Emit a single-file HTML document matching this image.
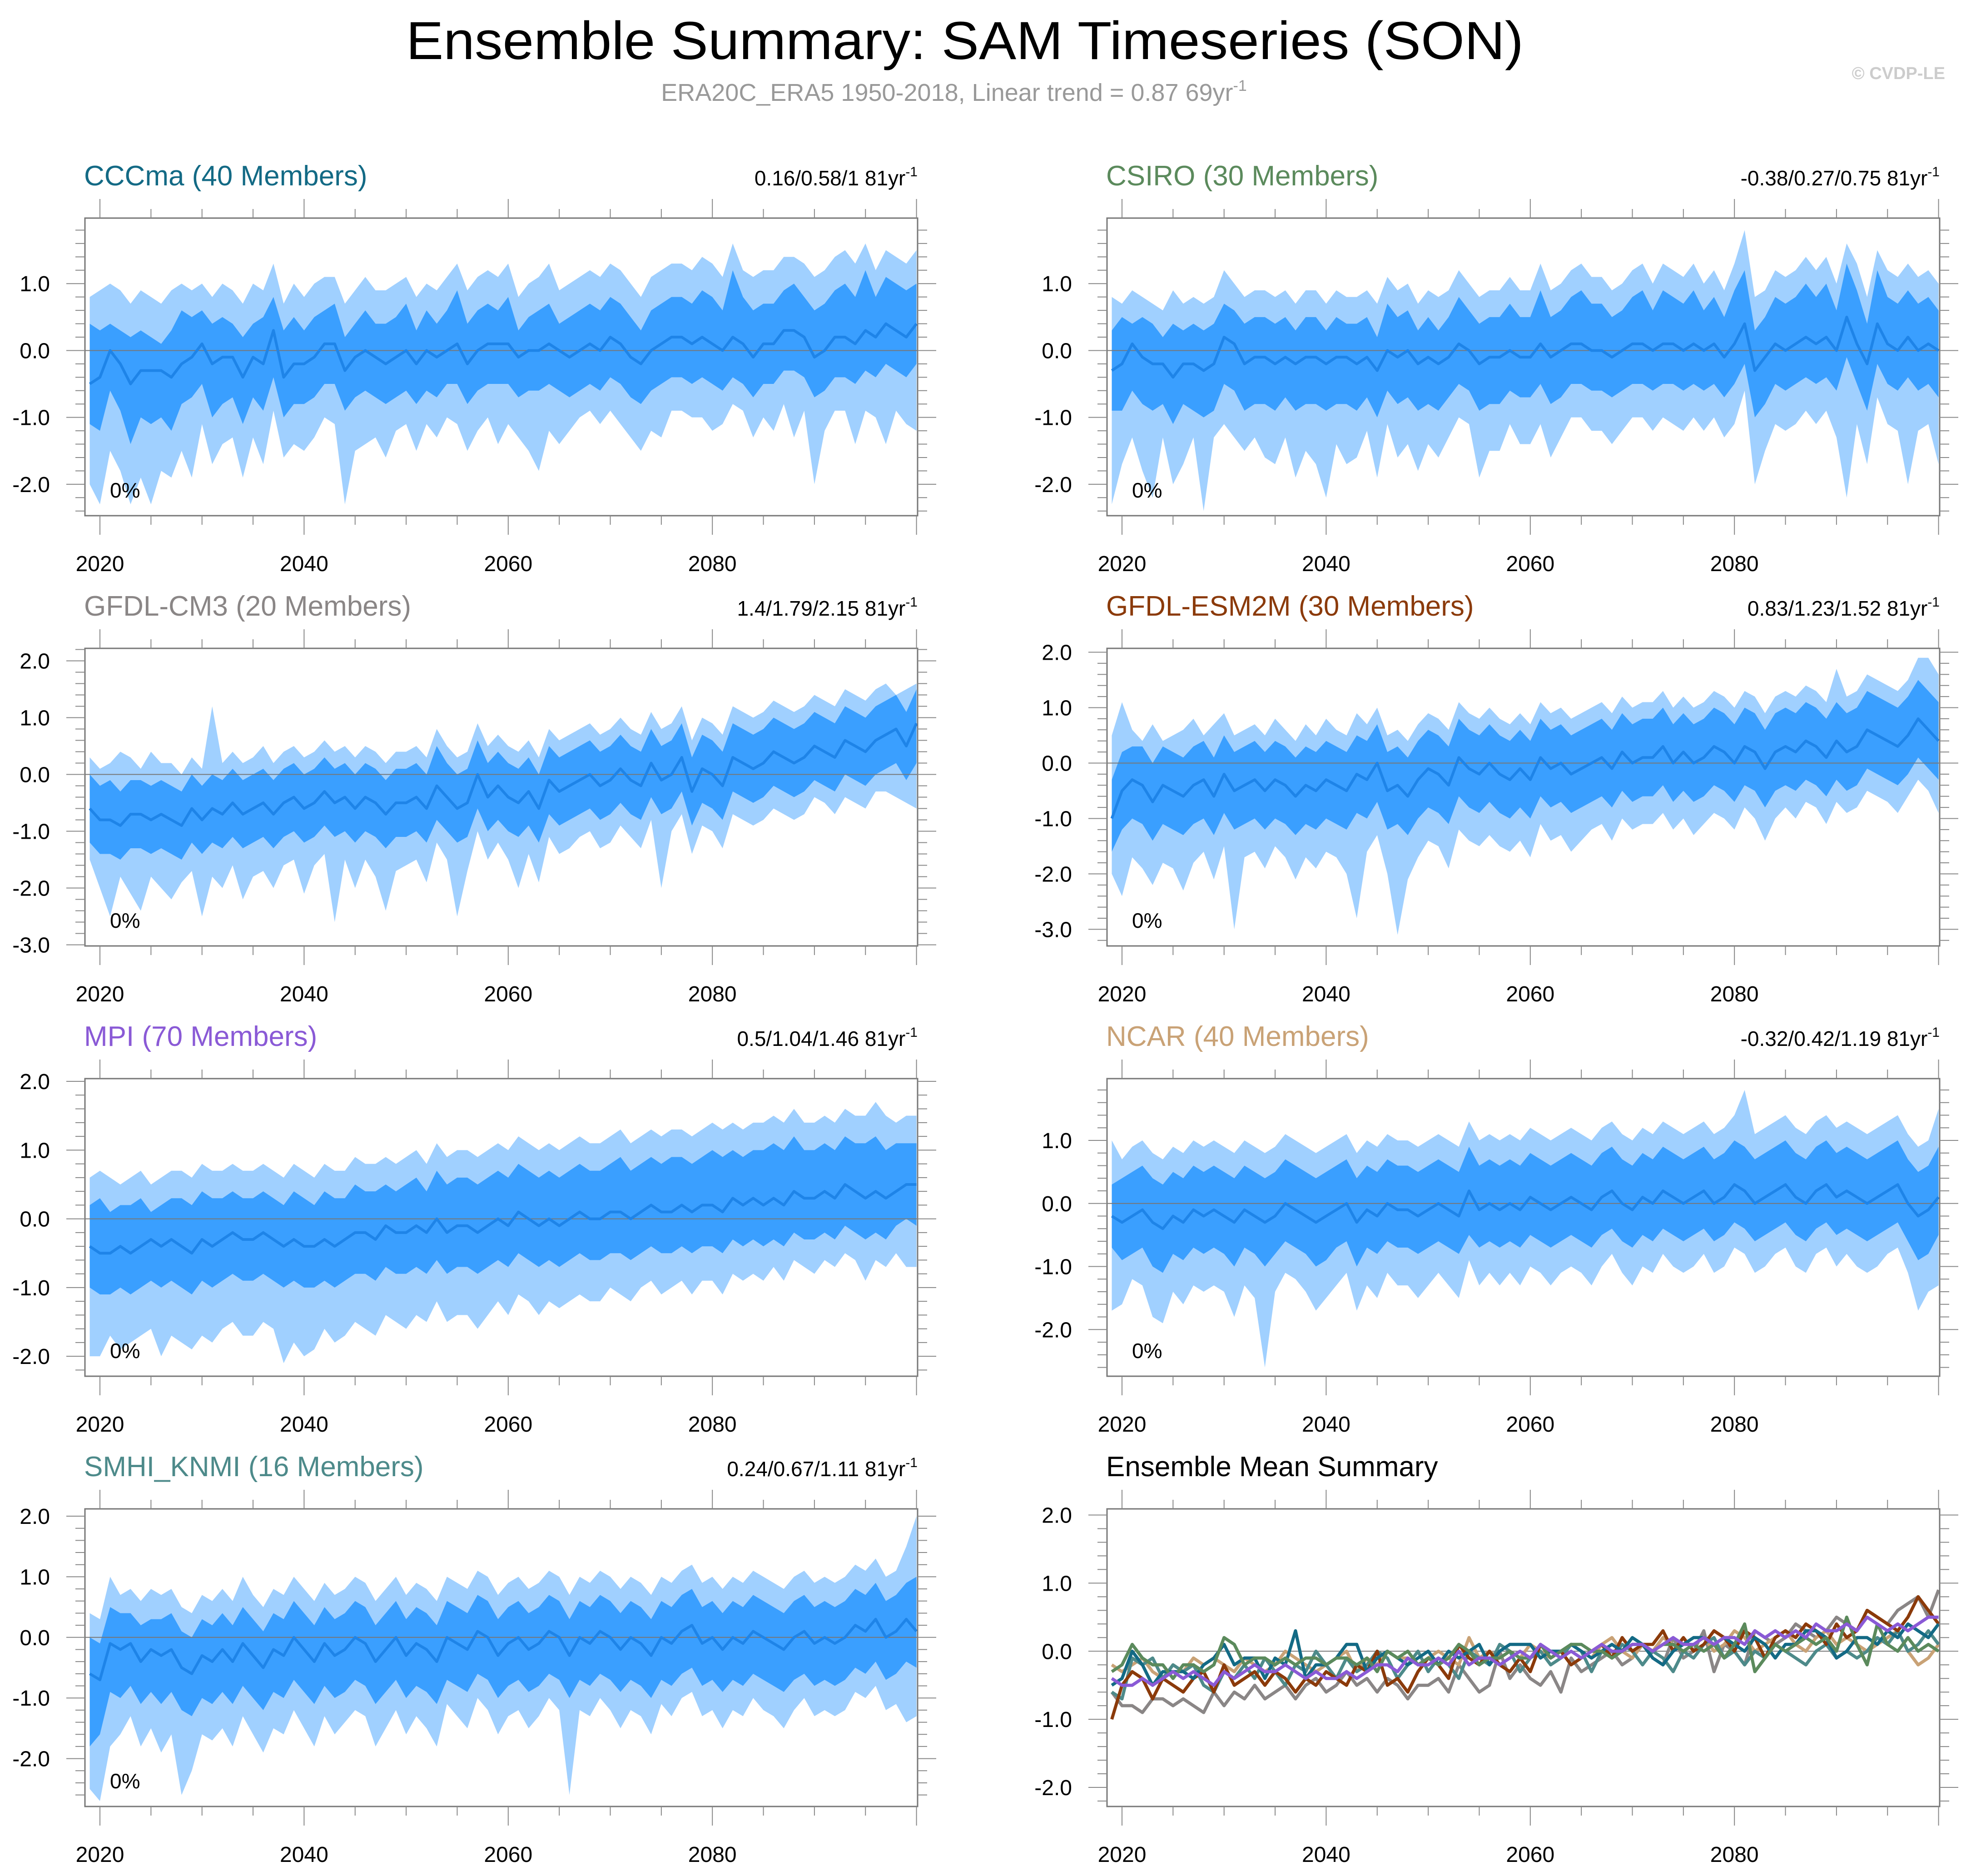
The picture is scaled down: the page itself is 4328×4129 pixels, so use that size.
<!DOCTYPE html>
<html><head><meta charset="utf-8"><title>Ensemble Summary: SAM Timeseries (SON)</title>
<style>html,body{margin:0;padding:0;background:#fff}svg{display:block}text{font-family:"Liberation Sans",sans-serif}</style>
</head><body>
<svg id="fig" xmlns="http://www.w3.org/2000/svg" width="4328" height="4129" viewBox="0 0 4328 4129">
<rect width="4328" height="4129" fill="#fff"/>
<text x="2124" y="130" font-size="118" text-anchor="middle" textLength="2460" lengthAdjust="spacingAndGlyphs">Ensemble Summary: SAM Timeseries (SON)</text>
<text x="2100" y="222" font-size="54" fill="#999" text-anchor="middle">ERA20C_ERA5 1950-2018, Linear trend = 0.87 69yr<tspan font-size="34" dy="-22">-1</tspan></text>
<text x="4282" y="174" font-size="38" font-weight="bold" fill="#ccc" text-anchor="end">© CVDP-LE</text>
<g id="panels"></g>
</svg>
<script>
const years0 = 2019;
// values in tenths
const cccmaMean=[-5,-4,0,-2,-5,-3,-3,-3,-4,-2,-1,1,-2,-1,-1,-4,-1,-2,3,-4,-2,-2,-1,1,1,-3,-1,0,-1,-2,-1,0,-2,0,-1,0,1,-2,0,1,1,1,-1,0,0,1,0,-1,0,1,0,2,1,-1,-2,0,1,2,2,1,2,1,0,2,1,-1,1,1,3,3,2,-1,0,2,2,1,3,2,4,3,2,4];
const cccmaIH=[4,3,4,3,2,3,2,1,3,6,5,6,4,5,4,2,4,5,8,3,5,3,5,6,7,2,4,6,4,4,5,7,3,6,4,6,9,4,6,7,6,8,3,5,6,7,4,5,6,7,6,8,7,5,3,6,7,8,8,7,9,8,6,12,8,6,7,7,9,10,8,6,7,9,10,8,12,8,11,10,9,10];
const cccmaIL=[-11,-12,-6,-9,-14,-10,-11,-10,-12,-8,-7,-5,-10,-8,-7,-11,-7,-9,-4,-10,-8,-8,-7,-5,-5,-9,-7,-6,-7,-8,-7,-6,-8,-6,-7,-5,-5,-8,-6,-5,-5,-5,-7,-6,-6,-5,-6,-7,-6,-5,-6,-4,-5,-7,-8,-6,-5,-4,-4,-5,-4,-5,-6,-4,-5,-7,-5,-5,-3,-3,-4,-7,-6,-4,-4,-5,-3,-4,-2,-3,-4,-2];
const cccmaOH=[8,9,10,9,7,9,8,7,9,10,9,10,8,10,9,7,10,9,13,7,10,8,10,11,11,7,9,11,9,9,10,11,8,10,9,11,13,9,11,12,11,13,8,10,11,13,9,10,11,12,11,13,12,10,8,11,12,13,13,12,14,13,11,16,12,11,12,12,14,14,13,11,12,14,15,13,16,12,15,14,13,15];
const cccmaOL=[-20,-23,-15,-18,-23,-19,-23,-18,-19,-15,-19,-11,-17,-14,-13,-19,-13,-17,-9,-16,-14,-15,-13,-10,-11,-23,-15,-14,-13,-16,-12,-11,-15,-11,-13,-10,-11,-15,-12,-10,-14,-11,-13,-15,-18,-12,-14,-12,-10,-9,-11,-9,-11,-13,-15,-12,-13,-9,-9,-10,-10,-12,-11,-8,-9,-13,-10,-12,-8,-13,-9,-20,-12,-9,-9,-14,-9,-10,-14,-9,-11,-12];

const csiroMean=[-3,-2,1,-1,-2,-2,-4,-2,-2,-3,-2,2,1,-2,-1,-1,-2,-1,-2,-1,-1,-2,-1,-1,-2,-1,-3,0,-1,0,-2,-1,-2,-1,1,0,-2,-1,-1,0,-1,-1,1,-1,0,1,1,0,0,-1,0,1,1,0,1,1,0,1,0,1,-1,1,4,-3,-1,1,0,1,2,1,2,0,5,1,-2,4,1,0,2,0,1,0];
const csiroIH=[3,5,4,5,4,2,4,3,4,3,4,7,6,4,5,5,4,5,3,5,5,3,5,4,4,5,2,7,5,6,3,5,3,5,8,6,4,5,5,7,5,5,9,5,6,8,9,7,7,5,6,8,9,6,9,8,7,9,6,8,5,9,12,3,5,8,7,8,10,8,10,6,13,9,4,12,8,7,9,7,8,6];
const csiroIL=[-9,-9,-6,-8,-9,-8,-11,-8,-9,-10,-9,-5,-6,-9,-8,-8,-9,-7,-9,-8,-8,-9,-8,-8,-9,-7,-10,-6,-8,-7,-9,-8,-9,-7,-5,-6,-9,-8,-8,-6,-7,-7,-5,-8,-7,-5,-5,-6,-6,-7,-6,-5,-5,-6,-5,-5,-6,-5,-6,-5,-7,-5,-2,-10,-8,-5,-6,-5,-4,-5,-4,-6,-1,-5,-9,-2,-5,-6,-4,-6,-5,-7];
const csiroOH=[8,7,9,8,7,6,9,7,8,7,8,12,10,8,9,9,8,9,7,9,9,7,9,8,8,9,7,11,9,10,7,9,8,9,12,10,8,9,9,11,9,9,13,9,10,12,13,11,11,9,10,12,13,10,13,12,11,13,10,12,9,13,18,8,9,12,11,12,14,12,14,10,16,13,8,15,12,11,13,11,12,10];
const csiroOL=[-23,-17,-13,-18,-22,-13,-20,-17,-13,-24,-13,-11,-13,-15,-13,-16,-17,-13,-19,-15,-17,-22,-14,-17,-16,-12,-19,-11,-16,-14,-18,-14,-16,-13,-10,-11,-19,-15,-15,-11,-14,-14,-11,-16,-13,-10,-10,-12,-12,-14,-12,-10,-10,-12,-10,-11,-12,-10,-12,-10,-13,-11,-6,-20,-15,-11,-12,-11,-9,-11,-9,-13,-22,-11,-17,-7,-11,-12,-20,-12,-11,-17];

const cm3Mean=[-6,-8,-8,-9,-7,-7,-8,-7,-8,-9,-6,-8,-6,-7,-5,-7,-6,-5,-7,-5,-4,-6,-5,-3,-5,-4,-6,-4,-5,-7,-5,-5,-4,-6,-2,-4,-6,-5,0,-4,-2,-4,-5,-3,-6,-1,-3,-2,-1,0,-2,-1,1,-1,-2,2,-1,0,3,-3,1,0,-2,3,2,1,2,4,3,2,3,5,4,3,6,5,4,6,7,8,5,9];
const cm3IH=[0,-2,-1,-3,-1,-1,-2,-1,-2,-3,0,-2,0,-1,1,-1,0,1,-1,1,2,0,1,3,1,2,0,2,1,-1,1,1,2,0,5,2,0,1,6,2,4,2,1,3,0,5,3,4,5,6,4,5,7,5,4,8,5,6,9,3,7,6,4,9,8,7,8,10,9,8,9,11,10,9,12,11,10,12,13,14,11,15];
const cm3IL=[-12,-14,-14,-15,-13,-13,-14,-13,-14,-15,-12,-14,-12,-13,-11,-13,-12,-11,-13,-11,-10,-12,-11,-9,-11,-10,-12,-10,-11,-13,-11,-11,-10,-12,-8,-10,-12,-11,-6,-10,-8,-10,-11,-9,-12,-7,-9,-8,-7,-6,-8,-7,-5,-7,-8,-4,-7,-6,-3,-9,-5,-6,-8,-3,-4,-5,-4,-2,-3,-4,-3,-1,-2,-3,0,-1,-2,0,1,2,-1,2];
const cm3OH=[3,1,2,4,3,1,4,2,2,0,3,1,12,2,4,2,3,5,2,4,5,3,4,6,4,5,3,5,4,2,4,4,5,3,8,5,3,4,9,5,7,5,4,6,3,8,6,7,8,9,7,8,10,8,7,11,8,9,12,6,10,9,7,12,11,10,11,13,12,11,12,14,13,12,15,14,13,15,16,14,15,16];
const cm3OL=[-15,-20,-25,-18,-21,-24,-18,-20,-22,-19,-17,-25,-18,-20,-16,-22,-18,-17,-20,-16,-15,-21,-16,-14,-26,-15,-20,-15,-18,-24,-17,-16,-15,-19,-12,-15,-25,-17,-10,-15,-12,-15,-20,-14,-19,-11,-14,-13,-11,-10,-13,-12,-9,-11,-13,-8,-20,-10,-7,-14,-9,-10,-13,-7,-8,-9,-8,-6,-7,-8,-7,-4,-5,-7,-4,-5,-6,-3,-3,-4,-5,-6];

const esmMean=[-10,-5,-3,-4,-7,-4,-5,-6,-4,-3,-6,-2,-5,-4,-3,-5,-3,-4,-6,-4,-5,-3,-4,-5,-2,-3,0,-5,-4,-6,-3,-1,-2,-4,1,-1,-2,0,-2,-3,-1,-3,1,-1,0,-2,-1,0,1,-1,2,0,1,1,3,0,2,0,1,3,2,0,3,2,-1,2,3,2,4,3,1,4,2,3,6,5,4,3,5,8,6,4];
const esmIH=[-3,2,3,3,0,3,2,1,3,4,1,5,2,3,4,2,4,3,1,3,2,4,3,2,5,4,7,2,3,1,4,6,5,3,8,6,5,7,5,4,6,4,8,6,7,5,6,7,8,6,9,7,8,8,10,7,9,7,8,10,9,7,10,9,6,9,10,9,11,10,8,11,9,10,13,12,11,10,12,15,13,11];
const esmIL=[-16,-12,-10,-11,-14,-11,-12,-13,-11,-10,-13,-9,-12,-11,-10,-12,-10,-11,-13,-11,-12,-10,-11,-12,-9,-10,-7,-12,-11,-13,-10,-8,-9,-11,-6,-8,-9,-7,-9,-10,-8,-10,-6,-8,-7,-9,-8,-7,-6,-8,-5,-7,-6,-6,-4,-7,-5,-7,-6,-4,-5,-7,-4,-5,-8,-5,-4,-5,-3,-4,-6,-3,-5,-4,-1,-2,-3,-4,-2,1,-1,-3];
const esmOH=[5,11,6,4,7,4,5,6,8,5,7,9,5,6,7,5,8,6,4,7,5,8,6,5,9,7,10,5,6,4,7,9,8,6,11,9,8,10,8,7,9,7,11,9,10,8,9,10,11,9,12,10,11,11,13,10,12,10,11,13,12,10,13,12,9,12,13,12,14,13,11,17,12,13,16,15,14,13,15,19,19,16];
const esmOL=[-20,-24,-17,-19,-22,-18,-19,-23,-18,-16,-21,-15,-30,-17,-16,-19,-15,-17,-21,-17,-19,-16,-17,-20,-28,-16,-13,-20,-31,-21,-17,-14,-15,-19,-12,-14,-15,-13,-15,-16,-14,-17,-11,-14,-13,-16,-14,-12,-11,-14,-10,-12,-11,-11,-9,-12,-10,-13,-11,-9,-10,-12,-8,-10,-14,-10,-8,-10,-7,-8,-11,-7,-9,-8,-5,-6,-7,-9,-6,-3,-5,-9];

const mpiMean=[-4,-5,-5,-4,-5,-4,-3,-4,-3,-4,-5,-3,-4,-3,-2,-3,-3,-2,-3,-4,-3,-4,-4,-3,-4,-3,-2,-2,-3,-1,-2,-2,-1,-2,0,-2,-1,-1,-2,-1,0,-1,1,0,-1,0,-1,0,1,0,0,1,1,0,1,2,1,1,2,1,2,2,1,3,2,3,2,3,2,4,3,3,4,3,5,4,3,4,3,4,5,5];
const mpiIH=[2,3,1,2,2,3,1,2,3,3,2,4,3,3,4,3,3,4,3,2,4,3,2,4,3,3,5,4,4,5,4,5,6,4,7,5,6,6,5,6,7,6,8,7,6,7,6,7,8,7,7,8,9,7,8,9,8,9,9,8,9,10,9,10,9,10,10,11,10,12,10,10,11,10,12,11,11,12,10,11,11,11];
const mpiIL=[-10,-11,-11,-10,-11,-10,-9,-10,-9,-10,-11,-9,-10,-9,-8,-9,-9,-8,-9,-10,-9,-10,-10,-9,-10,-9,-8,-8,-9,-7,-8,-8,-7,-8,-6,-8,-7,-7,-8,-7,-6,-7,-5,-6,-7,-6,-7,-6,-5,-6,-6,-5,-5,-6,-5,-4,-5,-5,-4,-5,-4,-4,-5,-3,-4,-3,-4,-3,-4,-2,-3,-3,-2,-3,-1,-2,-3,-2,-3,-1,0,-1];
const mpiOH=[6,7,6,5,6,7,5,6,7,7,6,8,7,7,8,7,7,8,7,6,8,7,6,8,7,7,9,8,8,9,8,9,10,8,11,9,10,10,9,10,11,10,12,11,10,11,10,11,12,11,11,12,13,11,12,13,12,13,13,12,13,14,13,14,13,14,14,15,14,16,14,14,15,14,16,15,15,17,15,14,15,15];
const mpiOL=[-20,-20,-17,-19,-18,-17,-16,-20,-17,-18,-19,-17,-18,-16,-15,-17,-17,-15,-16,-21,-18,-20,-19,-16,-18,-17,-15,-16,-17,-14,-15,-16,-14,-15,-12,-15,-14,-14,-16,-14,-12,-14,-11,-12,-14,-12,-13,-12,-11,-12,-12,-10,-11,-12,-10,-9,-11,-10,-9,-11,-9,-9,-11,-8,-9,-8,-9,-7,-9,-6,-7,-8,-6,-7,-5,-6,-9,-6,-7,-5,-7,-7];

const ncarMean=[-2,-3,-2,-1,-3,-4,-2,-3,-1,-2,-1,-2,-3,-1,-2,-3,-2,0,-1,-2,-3,-2,-1,0,-3,-1,-2,0,-1,-1,-2,-1,0,-1,-2,2,-1,0,-1,0,-1,1,0,-1,0,1,0,-1,1,2,0,-1,1,0,2,1,0,1,2,0,1,3,2,0,1,2,3,1,0,2,3,1,2,1,0,1,2,3,0,-2,-1,1];
const ncarIH=[3,4,5,6,4,3,5,4,6,5,6,5,4,6,5,4,5,7,6,5,4,5,6,7,4,6,5,7,6,6,5,6,7,6,5,9,6,7,6,7,6,8,7,6,7,8,7,6,8,9,7,6,8,7,9,8,7,8,9,7,8,10,9,7,8,9,10,8,7,9,10,8,9,8,7,8,9,10,7,5,6,9];
const ncarIL=[-7,-9,-8,-7,-10,-11,-8,-9,-7,-8,-7,-8,-10,-7,-8,-10,-8,-6,-7,-8,-10,-9,-7,-6,-10,-7,-8,-6,-7,-7,-8,-7,-6,-7,-8,-5,-7,-6,-7,-6,-7,-5,-6,-7,-6,-5,-6,-7,-5,-4,-6,-7,-5,-6,-4,-5,-6,-5,-4,-6,-5,-3,-4,-6,-5,-4,-3,-5,-6,-4,-3,-5,-4,-5,-6,-5,-4,-3,-6,-9,-8,-5];
const ncarOH=[10,7,9,10,8,7,9,8,10,9,10,9,8,10,9,8,9,11,10,9,8,9,10,11,8,10,9,11,10,10,9,10,11,10,9,13,10,11,10,11,10,12,11,10,11,12,11,10,12,13,11,10,12,11,13,12,11,12,13,11,12,14,18,11,12,13,14,12,11,13,14,12,13,12,11,12,13,14,11,9,10,15];
const ncarOL=[-17,-16,-12,-13,-18,-19,-14,-16,-13,-14,-13,-14,-18,-13,-15,-26,-14,-11,-12,-14,-17,-15,-13,-11,-17,-13,-15,-11,-13,-13,-15,-13,-11,-13,-15,-9,-13,-11,-13,-11,-13,-10,-11,-13,-11,-10,-11,-13,-10,-8,-11,-13,-10,-11,-8,-10,-11,-10,-8,-11,-10,-7,-8,-11,-10,-8,-7,-10,-11,-8,-7,-10,-8,-10,-11,-10,-8,-7,-11,-17,-14,-13];

const smhiMean=[-6,-7,-1,-2,-1,-4,-2,-3,-2,-5,-6,-3,-4,-2,-4,-1,-3,-5,-2,-3,0,-2,-4,-1,-3,-2,0,-1,-4,-2,0,-3,-1,-2,-4,0,-1,-2,1,0,-3,-1,0,-2,-1,1,0,-3,0,-1,1,0,-2,0,-1,-3,0,-1,1,2,-1,0,-2,0,-1,1,0,-1,-2,0,1,-1,0,-1,0,2,1,3,0,1,3,1];
const smhiIH=[0,-1,5,4,4,2,3,3,4,1,0,3,2,4,2,5,3,1,4,3,6,4,2,5,3,4,6,5,2,4,6,3,5,4,2,6,5,4,7,6,3,5,6,4,5,7,6,3,6,5,7,6,4,6,5,3,6,5,7,8,5,6,4,6,5,7,6,5,4,6,7,5,6,5,6,8,7,9,6,7,9,10];
const smhiIL=[-18,-16,-9,-10,-8,-11,-9,-11,-9,-12,-13,-10,-11,-9,-11,-8,-10,-12,-9,-10,-7,-9,-11,-8,-10,-9,-7,-8,-11,-9,-7,-10,-8,-9,-11,-7,-8,-9,-6,-7,-10,-8,-7,-9,-8,-6,-7,-10,-7,-8,-6,-7,-9,-7,-8,-10,-7,-8,-6,-5,-8,-7,-9,-7,-8,-6,-7,-8,-9,-7,-6,-8,-7,-8,-7,-5,-6,-4,-7,-6,-4,-5];
const smhiOH=[4,3,10,7,8,6,8,7,8,5,4,7,6,8,6,10,7,5,8,7,10,8,6,9,7,8,10,9,6,8,10,7,9,8,6,10,9,8,11,10,7,9,10,8,9,11,10,7,10,9,11,10,8,10,9,7,10,9,11,12,9,10,8,10,9,11,10,9,8,10,11,9,10,9,10,12,11,13,10,11,15,20];
const smhiOL=[-25,-27,-18,-16,-13,-18,-15,-19,-16,-26,-22,-16,-17,-15,-18,-13,-16,-19,-15,-16,-12,-15,-18,-13,-16,-14,-12,-13,-18,-15,-12,-16,-13,-15,-18,-11,-13,-15,-10,-12,-16,-13,-12,-15,-13,-10,-12,-26,-12,-13,-10,-12,-15,-12,-13,-16,-11,-13,-10,-9,-13,-12,-15,-12,-13,-10,-12,-13,-15,-12,-10,-13,-12,-13,-12,-9,-10,-8,-12,-11,-14,-13];

const xTickLabels=[2020,2040,2060,2080];

const NS="http://www.w3.org/2000/svg";
const root=document.getElementById('panels');
function el(tag,attrs,parent){const e=document.createElementNS(NS,tag);for(const k in attrs)e.setAttribute(k,attrs[k]);(parent||root).appendChild(e);return e;}

const panels=[
 {id:'cccma',title:'CCCma (40 Members)',color:'#136a85',stats:'0.16/0.58/1',col:0,row:0,ymin:-2.47,ymax:1.98,m:cccmaMean,ih:cccmaIH,il:cccmaIL,oh:cccmaOH,ol:cccmaOL},
 {id:'csiro',title:'CSIRO (30 Members)',color:'#5b8a5c',stats:'-0.38/0.27/0.75',col:1,row:0,ymin:-2.47,ymax:1.98,m:csiroMean,ih:csiroIH,il:csiroIL,oh:csiroOH,ol:csiroOL},
 {id:'gfdl-cm3',title:'GFDL-CM3 (20 Members)',color:'#8a8686',stats:'1.4/1.79/2.15',col:0,row:1,ymin:-3.02,ymax:2.22,m:cm3Mean,ih:cm3IH,il:cm3IL,oh:cm3OH,ol:cm3OL},
 {id:'gfdl-esm2m',title:'GFDL-ESM2M (30 Members)',color:'#8b3a0a',stats:'0.83/1.23/1.52',col:1,row:1,ymin:-3.3,ymax:2.07,m:esmMean,ih:esmIH,il:esmIL,oh:esmOH,ol:esmOL},
 {id:'mpi',title:'MPI (70 Members)',color:'#8a5ad6',stats:'0.5/1.04/1.46',col:0,row:2,ymin:-2.29,ymax:2.04,m:mpiMean,ih:mpiIH,il:mpiIL,oh:mpiOH,ol:mpiOL},
 {id:'ncar',title:'NCAR (40 Members)',color:'#c9a276',stats:'-0.32/0.42/1.19',col:1,row:2,ymin:-2.74,ymax:1.98,m:ncarMean,ih:ncarIH,il:ncarIL,oh:ncarOH,ol:ncarOL},
 {id:'smhi-knmi',title:'SMHI_KNMI (16 Members)',color:'#4d8a8a',stats:'0.24/0.67/1.11',col:0,row:3,ymin:-2.79,ymax:2.12,m:smhiMean,ih:smhiIH,il:smhiIL,oh:smhiOH,ol:smhiOL},
];
const summary={id:'summary',title:'Ensemble Mean Summary',color:'#000',col:1,row:3,ymin:-2.28,ymax:2.09};

function frame(p){
 const X0=p.col?2437:187, X1=X0+1833, Y0=480+p.row*947, Y1=Y0+655;
 const xs=y=>X0+33+(y-2020)*22.47;
 const ys=v=>Y1-(v-p.ymin)/(p.ymax-p.ymin)*(Y1-Y0);
 const g=el('g',{});
 
 
 const t=el('text',{x:X0-2,y:Y0-72,'font-size':62,fill:p.color},g);t.textContent=p.title;
 
 
 if(p.stats){const s=el('text',{x:X1,y:Y0-72,'font-size':46,'text-anchor':'end'},g);
  
  
  s.appendChild(document.createTextNode(p.stats+' 81yr'));const sp=el('tspan',{'font-size':30,dy:-20},s);sp.textContent='-1';}
 return {X0,X1,Y0,Y1,xs,ys,g};
}
function axes(p,f){
 const {X0,X1,Y0,Y1,xs,ys,g}=f;
 el('rect',{x:X0,y:Y0,width:X1-X0,height:Y1-Y0,fill:'none',stroke:'#777','stroke-width':3},g);
 for(let yr=2020;yr<=2100;yr+=5){const x=xs(yr);if(x>X1)break;const L=(yr%20===0)?42:20;
  el('line',{x1:x,x2:x,y1:Y0,y2:Y0-L,stroke:'#888','stroke-width':2},g);
  el('line',{x1:x,x2:x,y1:Y1,y2:Y1+L,stroke:'#888','stroke-width':2},g);}
 xTickLabels.forEach(yr=>{const t=el('text',{x:xs(yr),y:Y1+122,'font-size':48,'text-anchor':'middle'},g);t.textContent=yr;
  
  });
 for(let k=Math.ceil(p.ymin*5);k<=Math.floor(p.ymax*5);k++){const v=k/5,y=ys(v),maj=(k%5===0),L=maj?41:21;
  el('line',{x1:X0,x2:X0-L,y1:y,y2:y,stroke:'#888','stroke-width':2},g);
  el('line',{x1:X1,x2:X1+L,y1:y,y2:y,stroke:'#888','stroke-width':2},g);
  if(maj){const t=el('text',{x:X0-77,y:y+17,'font-size':48,'text-anchor':'end'},g);t.textContent=v.toFixed(1);
   
   }}
}
function poly(f,hi,lo,fill,name){
 const pts=[];hi.slice(0,82).forEach((v,i)=>pts.push(f.xs(years0+i)+','+f.ys(v/10)));
 for(let i=Math.min(lo.length,82)-1;i>=0;i--)pts.push(f.xs(years0+i)+','+f.ys(lo[i]/10));
 const e=el('polygon',{points:pts.join(' '),fill:fill},f.g);
 
 
}
function line(f,arr,color,w,name){
 const pts=arr.slice(0,82).map((v,i)=>f.xs(years0+i)+','+f.ys(v/10)).join(' ');
 const e=el('polyline',{points:pts,fill:'none',stroke:color,'stroke-width':w,'stroke-linejoin':'round'},f.g);
 
 
}
panels.forEach(p=>{
 const f=frame(p);
 poly(f,p.oh,p.ol,'#a0d0ff',p.id+'-outer-range-band');
 poly(f,p.ih,p.il,'#3a9fff',p.id+'-inner-range-band');
 el('line',{x1:f.X0,x2:f.X1,y1:f.ys(0),y2:f.ys(0),stroke:'#777','stroke-width':2},f.g);
 line(f,p.m,'#1e84e8',6,p.id+'-ensemble-mean-line');
 const t=el('text',{x:f.X0+55,y:f.Y1-40,'font-size':46},f.g);t.textContent='0%';
 
 
 axes(p,f);
});
const fs=frame(summary);
el('line',{x1:fs.X0,x2:fs.X1,y1:fs.ys(0),y2:fs.ys(0),stroke:'#777','stroke-width':2},fs.g);
[2,5,6,3,0,1,4].forEach(i=>{const p=panels[i];line(fs,p.m,p.color,7,'summary-line-'+p.id);});
axes(summary,fs);
</script>
</body></html>
